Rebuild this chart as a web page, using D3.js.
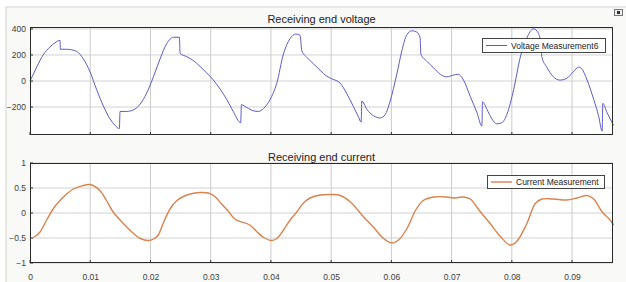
<!DOCTYPE html>
<html><head><meta charset="utf-8">
<script src="https://cdn.jsdelivr.net/npm/d3@7/dist/d3.min.js"></script>
<style>html,body{margin:0;padding:0;background:#fff;}svg{display:block;font-family:"Liberation Sans",Arial,sans-serif;}</style>
</head><body><svg id="c" width="626" height="282"></svg>
<script>
// time in ms
const voltageTime = [0,0.55,1.11,2.21,3.32,4.15,4.98,5.04,6.09,7.75,8.86,9.97,11.07,12.18,13.29,14.12,14.84,14.95,16.06,17.17,18.27,19.38,20.49,21.59,22.7,23.81,24.81,24.92,26.02,27.13,28.24,29.35,30.45,31.56,32.67,33.78,34.99,35.1,35.99,37.1,37.93,38.76,39.87,40.97,42.08,43.19,44.13,44.85,45.13,45.96,47.07,48.17,49.28,50.11,51.5,52.6,53.7,54.5,54.98,55.1,55.92,57.03,58.14,58.97,59.8,60.9,61.74,62.57,63.4,64.23,64.78,64.89,65.89,67.0,68.1,69.2,70.3,71.1,71.98,73.09,74.2,75.03,75.14,75.86,76.7,77.5,78.35,79.2,80.3,81.4,82.5,83.6,84.4,84.8,85.0,85.8,86.9,88.0,89.1,90.2,91.1,91.6,92.5,93.6,94.4,95.0,95.1,95.8,96.9];
const voltageValue = [0,52,107,202,262,294,312,244,244,227,169,70,-67,-192,-292,-341,-366,-234,-234,-222,-179,-92,32,169,287,336,336,212,187,157,112,62,7,-62,-142,-237,-321,-182,-204,-229,-234,-212,-142,-17,207,326,361,349,232,182,132,82,37,17,-17,-97,-197,-272,-316,-154,-217,-267,-284,-259,-154,52,232,356,386,376,331,207,152,102,52,32,45,52,7,-117,-242,-346,-159,-217,-292,-329,-321,-254,-67,182,331,401,369,282,182,107,32,7,20,70,107,95,7,-142,-267,-386,-172,-242,-341];
const currentTime = [0,0.83,1.66,2.77,3.88,4.98,6.09,7.2,8.3,9.69,10.5,11.6,12.7,13.8,14.95,16.06,17.2,18.3,19.7,20.5,21.3,22.1,23.3,24.4,25.5,26.6,28.2,29.6,30.7,31.8,32.9,34.1,36.5,37.7,38.8,40.1,41.0,42.1,43.2,44.3,45.4,46.5,48.2,50.1,51.5,53.2,55.4,57.0,58.7,60.1,61.2,62.6,64.0,65.3,67.0,69.2,70.3,72.0,73.1,74.8,76.4,78.1,79.7,80.8,82.5,83.9,85.0,86.9,89.1,90.8,92.5,93.6,95.0,96.1,96.9];
const currentValue = [-0.51,-0.47,-0.38,-0.14,0.09,0.25,0.38,0.48,0.53,0.57,0.55,0.45,0.25,0.02,-0.14,-0.28,-0.41,-0.51,-0.55,-0.52,-0.44,-0.21,0.09,0.25,0.33,0.38,0.41,0.40,0.33,0.18,0.04,-0.13,-0.24,-0.38,-0.49,-0.55,-0.51,-0.34,-0.14,0.02,0.20,0.30,0.36,0.37,0.35,0.22,-0.08,-0.28,-0.51,-0.60,-0.54,-0.31,0.05,0.25,0.32,0.32,0.30,0.32,0.28,0.02,-0.21,-0.47,-0.64,-0.57,-0.21,0.19,0.28,0.28,0.26,0.30,0.35,0.28,0.02,-0.11,-0.24];
const xTicks = [0,0.01,0.02,0.03,0.04,0.05,0.06,0.07,0.08,0.09];
const xTickLabels = ["0","0.01","0.02","0.03","0.04","0.05","0.06","0.07","0.08","0.09"];
const vTicks = [-200,0,200,400];
const iTicks = [-1,-0.5,0,0.5,1];
const titles = ["Receiving end voltage","Receiving end current"];
const legends = ["Voltage Measurement6","Current Measurement"];

const svg = d3.select("#c");
svg.append("rect").attr("x",6).attr("y",7).attr("width",626).attr("height",282).attr("fill","#f9f9f7").attr("stroke","#d4d4d0").attr("stroke-width",1);
svg.append("rect").attr("x",614.5).attr("y",9.5).attr("width",8).attr("height",6).attr("fill","#eee").attr("stroke","#777");
svg.append("rect").attr("x",617).attr("y",11).attr("width",3).attr("height",3).attr("fill","#333");

const x = d3.scaleLinear().domain([0,0.0968]).range([30,613]);

function panel(yDomain, yRange, ticks, tickFmt, t, v, color, width, curve, title, titleY, legend, lg){
  const y = d3.scaleLinear().domain(yDomain).range(yRange);
  const g = svg.append("g");
  g.append("rect").attr("x",x.range()[0]).attr("y",yRange[1]).attr("width",x.range()[1]-x.range()[0]).attr("height",yRange[0]-yRange[1]).attr("fill","#fff");
  g.selectAll(".gx").data(xTicks.slice(1)).join("line").attr("x1",d=>x(d)).attr("x2",d=>x(d)).attr("y1",yRange[1]).attr("y2",yRange[0]).attr("stroke","#cbcbcb").attr("stroke-width",1);
  g.selectAll(".gy").data(ticks).join("line").attr("x1",x.range()[0]).attr("x2",x.range()[1]).attr("y1",d=>y(d)).attr("y2",d=>y(d)).attr("stroke","#d2d2d2").attr("stroke-width",1);
  const ax = d3.axisLeft(y).tickValues(ticks).tickSize(0).tickPadding(4).tickFormat(tickFmt);
  const ag = g.append("g").attr("transform",`translate(${x.range()[0]},0)`).call(ax);
  ag.select(".domain").remove();
  ag.selectAll("text").attr("font-size",8.5).attr("fill","#404040");
  g.selectAll(".ty").data(ticks).join("line").attr("x1",x.range()[0]).attr("x2",x.range()[0]+3).attr("y1",d=>y(d)).attr("y2",d=>y(d)).attr("stroke","#333");
  g.selectAll(".tx").data(xTicks).join("line").attr("x1",d=>x(d)).attr("x2",d=>x(d)).attr("y1",yRange[0]).attr("y2",yRange[0]-3).attr("stroke","#333");
  const line = d3.line().x((d,i)=>x(t[i]/1000)).y((d,i)=>y(v[i])).curve(curve);
  g.append("path").datum(v).attr("d",line).attr("fill","none").attr("stroke",color).attr("stroke-width",width).attr("stroke-linejoin","round");
  g.append("rect").attr("x",x.range()[0]+0.5).attr("y",yRange[1]+0.5).attr("width",x.range()[1]-x.range()[0]-1).attr("height",yRange[0]-yRange[1]-1).attr("fill","none").attr("stroke","#2a2a2a").attr("stroke-width",1);
  g.append("text").attr("x",(x.range()[0]+x.range()[1])/2).attr("y",titleY).attr("text-anchor","middle").attr("font-size",11).attr("fill","#222").text(title);
  g.append("rect").attr("x",lg[0]+0.5).attr("y",lg[1]+0.5).attr("width",lg[2]).attr("height",lg[3]).attr("fill","#fff").attr("stroke","#444");
  g.append("line").attr("x1",lg[0]+4).attr("x2",lg[0]+25).attr("y1",lg[1]+lg[3]/2+0.5).attr("y2",lg[1]+lg[3]/2+0.5).attr("stroke",color).attr("stroke-width",width);
  g.append("text").attr("x",lg[0]+29).attr("y",lg[1]+lg[3]/2+3.5).attr("font-size",8.5).attr("fill","#222").text(legend);
  return y;
}

panel([-415,415],[135,27],vTicks,d=>d3.format("d")(d),voltageTime,voltageValue,"#5b5bc8",1,d3.curveMonotoneX,titles[0],23,legends[0],[482,38,123,14]);
panel([-1,1],[263,163],iTicks,d=>d===0?"0":d3.format("")(d),currentTime,currentValue,"#d9844f",1.4,d3.curveCatmullRom.alpha(0.5),titles[1],161,legends[1],[487,175,117,13]);

svg.append("g").attr("transform","translate(0,263)").call(d3.axisBottom(x).tickValues(xTicks).tickSize(0).tickPadding(11).tickFormat((d,i)=>xTickLabels[i]))
  .call(g=>g.select(".domain").remove())
  .selectAll("text").attr("font-size",8.5).attr("fill","#404040");
</script></body></html>
